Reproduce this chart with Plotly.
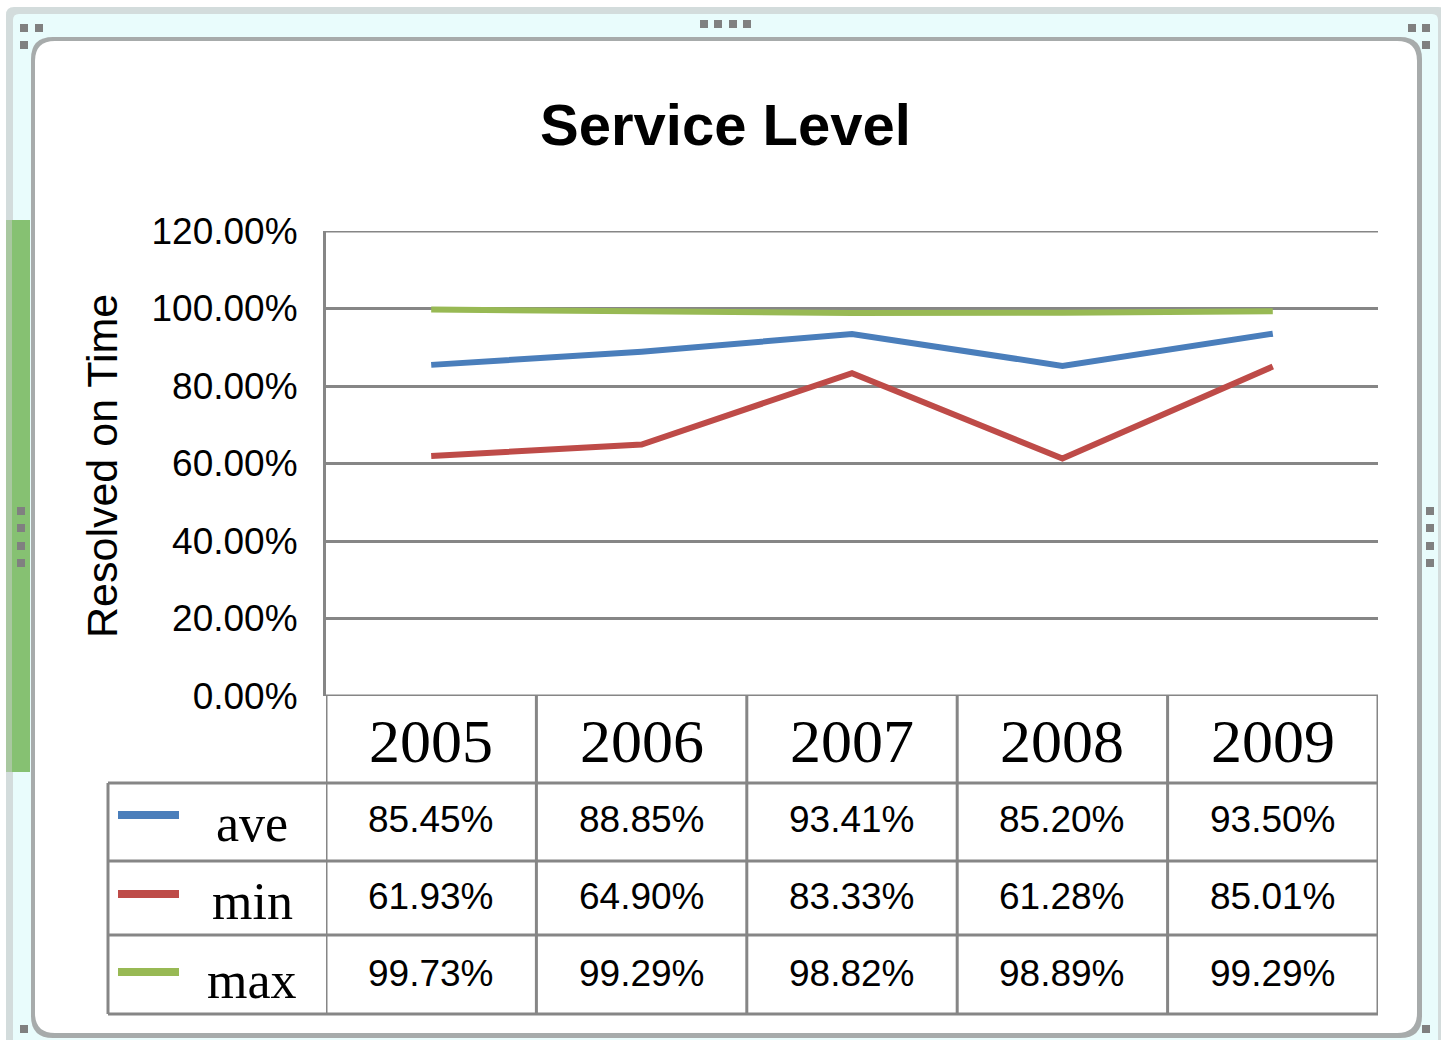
import plotly.graph_objects as go

# ---------------- data ----------------
years = ["2005", "2006", "2007", "2008", "2009"]
ave = [0.8545, 0.8885, 0.9341, 0.8520, 0.9350]
mins = [0.6193, 0.6490, 0.8333, 0.6128, 0.8501]
maxs = [0.9973, 0.9929, 0.9882, 0.9889, 0.9929]
series_names = ["ave", "min", "max"]
series_colors = ["#4a7ebb", "#be4b48", "#98b954"]
y_ticks = [0.0, 0.2, 0.4, 0.6, 0.8, 1.0, 1.2]
title_text = "Service Level"
y_title = "Resolved on Time"

# ---------------- helpers ----------------
W, H = 1441, 1040


def X(x):
    return x / W


def Y(y):
    return 1 - y / H


GRID = "#868686"
SANS = "Liberation Sans, Arial, sans-serif"
SERIF = "Liberation Serif, Times New Roman, serif"


def rrect(x0, y0, x1, y1, r):
    return (f"M {X(x0 + r)},{Y(y0)} L {X(x1 - r)},{Y(y0)} Q {X(x1)},{Y(y0)} {X(x1)},{Y(y0 + r)} "
            f"L {X(x1)},{Y(y1 - r)} Q {X(x1)},{Y(y1)} {X(x1 - r)},{Y(y1)} "
            f"L {X(x0 + r)},{Y(y1)} Q {X(x0)},{Y(y1)} {X(x0)},{Y(y1 - r)} "
            f"L {X(x0)},{Y(y0 + r)} Q {X(x0)},{Y(y0)} {X(x0 + r)},{Y(y0)} Z")


fig = go.Figure()
all_series = [ave, mins, maxs]
for name, vals, col in zip(series_names, all_series, series_colors):
    fig.add_trace(go.Scatter(x=years, y=vals, mode="lines", name=name,
                             line=dict(color=col, width=6), showlegend=False,
                             hovertemplate="%{x}: %{y:.2%}<extra>" + name + "</extra>"))

shapes = []
# ---- window frame decoration ----
shapes.append(dict(type="path", xref="paper", yref="paper", layer="below",
                   path=rrect(6, 7, 1446, 1050, 8), fillcolor="#d3dcdc", line=dict(width=0)))
shapes.append(dict(type="path", xref="paper", yref="paper", layer="below",
                   path=rrect(13, 14, 1438, 1050, 6), fillcolor="#e9fcfc", line=dict(width=0)))
shapes.append(dict(type="path", xref="paper", yref="paper", layer="below",
                   path=rrect(31, 37, 1422, 1038, 22), fillcolor="#a7abab", line=dict(width=0)))
shapes.append(dict(type="path", xref="paper", yref="paper", layer="below",
                   path=rrect(35, 41, 1417, 1033, 20), fillcolor="#ffffff", line=dict(width=0)))
# green bar on the left
shapes.append(dict(type="rect", xref="paper", yref="paper", layer="below",
                   x0=X(6), x1=X(30), y0=Y(772), y1=Y(220), fillcolor="#86c172", line=dict(width=0)))
shapes.append(dict(type="rect", xref="paper", yref="paper", layer="below",
                   x0=X(6), x1=X(12), y0=Y(772), y1=Y(220), fillcolor="#a9c8a0", line=dict(width=0)))
# handles
handles = []
for yy in (507, 524, 542, 559):
    handles.append((17, yy))
    handles.append((1426, yy))
for xx in (700, 714, 729, 743):
    handles.append((xx, 20))
handles += [(20, 24), (35, 24), (20, 41), (1408, 24), (1422, 24), (1422, 41), (20, 1025), (1422, 1025)]
for hx, hy in handles:
    shapes.append(dict(type="rect", xref="paper", yref="paper", layer="below",
                       x0=X(hx), x1=X(hx + 8), y0=Y(hy + 8), y1=Y(hy), fillcolor="#808080",
                       line=dict(width=0)))

# ---- data table grid ----
line_style = dict(color=GRID, width=3)
row_lines = [783, 861, 935, 1014]
for ry in row_lines:
    shapes.append(dict(type="line", xref="paper", yref="paper", x0=X(108), x1=X(1378),
                       y0=Y(ry), y1=Y(ry), line=line_style))
# top gridline and header top line (0 level)
for lvl in (y_ticks[0], y_ticks[-1]):
    shapes.append(dict(type="line", xref="x", yref="y", x0=-0.5, x1=len(years) - 0.5,
                       y0=lvl, y1=lvl, line=line_style))
# left legend column border
shapes.append(dict(type="line", xref="paper", yref="paper", x0=X(108), x1=X(108),
                   y0=Y(1014), y1=Y(783), line=line_style))
# axis line continued down through table
shapes.append(dict(type="line", xref="x", yref="paper", x0=-0.5, x1=-0.5,
                   y0=Y(1014), y1=Y(696), line=line_style))
for i in range(len(years)):
    xb = i + 0.5
    shapes.append(dict(type="line", xref="x", yref="paper", x0=xb, x1=xb,
                       y0=Y(1014), y1=Y(696), line=line_style))

# legend keys in table
key_rows = [815, 894, 972]
for ky, col in zip(key_rows, series_colors):
    shapes.append(dict(type="line", xref="paper", yref="paper", x0=X(118), x1=X(179),
                       y0=Y(ky), y1=Y(ky), line=dict(color=col, width=8)))

annotations = []
# title
annotations.append(dict(text="<b>" + title_text + "</b>", x=X(725), y=Y(124), xref="paper", yref="paper",
                        showarrow=False, xanchor="center", yanchor="middle",
                        font=dict(family=SANS, size=58, color="black")))
# y title
annotations.append(dict(text=y_title, x=X(102), y=Y(466), xref="paper", yref="paper", textangle=-90,
                        showarrow=False, xanchor="center", yanchor="middle",
                        font=dict(family=SANS, size=43, color="black")))
# header years
for i, yr in enumerate(years):
    annotations.append(dict(text=yr, x=i, y=Y(741), xref="x", yref="paper", showarrow=False,
                            xanchor="center", yanchor="middle",
                            font=dict(family=SERIF, size=62, color="black")))
# rows
value_rows = [819, 896, 973]
label_rows = [823, 901, 980]
for name, vals, vy, ly in zip(series_names, all_series, value_rows, label_rows):
    annotations.append(dict(text=name, x=X(252), y=Y(ly), xref="paper", yref="paper", showarrow=False,
                            xanchor="center", yanchor="middle",
                            font=dict(family=SERIF, size=52, color="black")))
    for i, v in enumerate(vals):
        annotations.append(dict(text=f"{v:.2%}", x=i, y=Y(vy), xref="x", yref="paper", showarrow=False,
                                xanchor="center", yanchor="middle",
                                font=dict(family=SANS, size=37, color="black")))

fig.update_layout(
    template="none",
    width=W, height=H, autosize=False,
    margin=dict(l=0, r=0, t=0, b=0, pad=0, autoexpand=False),
    paper_bgcolor="white", plot_bgcolor="rgba(0,0,0,0)",
    showlegend=False,
    xaxis=dict(domain=[X(326), X(1378)], type="category", range=[-0.5, len(years) - 0.5],
               showticklabels=False, showgrid=False, zeroline=False, showline=False, ticks="",
               automargin=False),
    yaxis=dict(domain=[Y(696), Y(231)], range=[0, 1.2], tickvals=y_ticks, tickformat=".2%",
               showgrid=True, gridcolor=GRID, gridwidth=3, zeroline=False,
               showline=True, linecolor=GRID, linewidth=3, ticks="", ticklen=0, ticklabelstandoff=18,
               automargin=False,
               tickfont=dict(family=SANS, size=37, color="black")),
    shapes=shapes,
    annotations=annotations,
)

fig.write_html("out.html", config=dict(displayModeBar=False),
               post_script="document.body.style.margin='0';document.body.style.overflow='hidden';")
